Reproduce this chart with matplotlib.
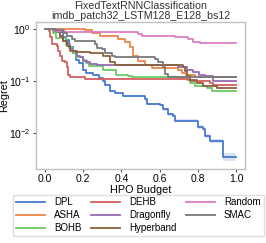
import numpy as np
import matplotlib
matplotlib.use('Agg')
import matplotlib.pyplot as plt

plt.rcParams['font.family'] = ['Liberation Sans', 'DejaVu Sans']

# values (steps: value changes at each budget point)
dpl_x = [0, 0.05, 0.093, 0.11, 0.126, 0.145, 0.162, 0.178, 0.197, 0.215, 0.25, 0.283, 0.302, 0.314,
         0.34, 0.366, 0.408, 0.524, 0.532, 0.602, 0.618, 0.644, 0.67, 0.68, 0.80, 0.827, 0.838, 0.864,
         0.932, 1.0]
dpl_y = [1.0, 0.89, 0.714, 0.618, 0.461, 0.35, 0.258, 0.226, 0.167, 0.146, 0.134, 0.1175, 0.10, 0.0866,
         0.0646, 0.0585, 0.0519, 0.045, 0.0361, 0.0346, 0.029, 0.0233, 0.0217, 0.0174, 0.0132, 0.0121,
         0.0089, 0.00727, 0.00356, 0.00356]
# relative spread of the shaded band around DPL
dpl_err = [0, 0.01, 0.02, 0.02, 0.02, 0.02, 0.02, 0.02, 0.02, 0.02, 0.03, 0.03, 0.03, 0.03,
           0.04, 0.04, 0.05, 0.05, 0.05, 0.05, 0.06, 0.06, 0.07, 0.07, 0.08, 0.08, 0.1, 0.1,
           0.2, 0.2]

asha_x = [0, 0.209, 0.246, 0.288, 0.382, 0.419, 0.445, 0.461, 0.487, 0.524, 0.56, 0.696, 0.717, 0.738, 0.785, 1.0]
asha_y = [1.0, 0.957, 0.84, 0.753, 0.646, 0.56, 0.45, 0.311, 0.25, 0.201, 0.182, 0.167, 0.146, 0.134, 0.119, 0.119]

bohb_x = [0, 0.04, 0.058, 0.11, 0.126, 0.145, 0.162, 0.197, 0.215, 0.23, 0.302, 0.372, 0.435, 0.455,
          0.743, 0.759, 0.785, 0.848, 0.874, 1.0]
bohb_y = [1.0, 0.84, 0.675, 0.497, 0.436, 0.35, 0.298, 0.258, 0.226, 0.193, 0.167, 0.134, 0.128, 0.121,
          0.1045, 0.0933, 0.0804, 0.075, 0.0646, 0.0646]

dehb_x = [0, 0.021, 0.026, 0.035, 0.061, 0.068, 0.079, 0.089, 0.105, 0.114, 0.12, 0.131, 0.209, 0.759,
          0.864, 0.88, 1.0]
dehb_y = [1.0, 0.928, 0.705, 0.519, 0.476, 0.383, 0.307, 0.247, 0.237, 0.19, 0.13, 0.121, 0.110, 0.10,
          0.0945, 0.0847, 0.0847]

dragonfly_x = [0, 0.042, 0.068, 0.079, 0.094, 0.115, 0.131, 0.147, 0.166, 0.183, 0.199, 0.218, 0.236,
               0.271, 0.696, 0.743, 0.775, 0.806, 0.838, 0.88, 1.0]
dragonfly_y = [1.0, 0.978, 0.877, 0.705, 0.6, 0.519, 0.417, 0.388, 0.311, 0.29, 0.25, 0.237, 0.217,
               0.201, 0.19, 0.167, 0.153, 0.134, 0.124, 0.10, 0.10]

hyperband_x = [0, 0.052, 0.079, 0.094, 0.114, 0.131, 0.162, 0.236, 0.304, 0.34, 0.366, 0.723, 0.733,
               0.743, 0.759, 0.796, 0.827, 0.90, 1.0]
hyperband_y = [1.0, 0.936, 0.746, 0.6, 0.482, 0.388, 0.366, 0.35, 0.307, 0.237, 0.203, 0.19, 0.155,
               0.124, 0.108, 0.0945, 0.0804, 0.073, 0.073]

random_x = [0, 0.052, 0.105, 0.487, 0.506, 0.681, 0.749, 0.775, 0.812, 1.0]
random_y = [1.0, 0.936, 0.877, 0.804, 0.737, 0.705, 0.66, 0.574, 0.535, 0.535]

smac_x = [0, 0.052, 0.079, 0.096, 0.114, 0.14, 0.157, 0.262, 0.271, 0.297, 0.314, 0.351, 0.366, 0.576,
          0.592, 0.618, 0.628, 0.644, 1.0]
smac_y = [1.0, 0.978, 0.957, 0.851, 0.736, 0.638, 0.592, 0.512, 0.442, 0.412, 0.355, 0.311, 0.29, 0.27,
          0.233, 0.1876, 0.14, 0.121, 0.121]

series = [
    ('DPL', dpl_x, dpl_y, '#4878d0'),
    ('ASHA', asha_x, asha_y, '#ee854a'),
    ('BOHB', bohb_x, bohb_y, '#6acc64'),
    ('DEHB', dehb_x, dehb_y, '#d65f5f'),
    ('Dragonfly', dragonfly_x, dragonfly_y, '#956cb4'),
    ('Hyperband', hyperband_x, hyperband_y, '#8c613c'),
    ('Random', random_x, random_y, '#dc7ec0'),
    ('SMAC', smac_x, smac_y, '#797979'),
]

fig = plt.figure(figsize=(2.66, 2.43), dpi=100)
ax = fig.add_axes([0.135, 0.305, 0.786, 0.604])

for name, xs, ys, col in series:
    ax.plot(xs, ys, drawstyle='steps-post', color=col, lw=1.3, label=name)

lo = np.array(dpl_y) / (1 + np.array(dpl_err))
hi = np.array(dpl_y) * (1 + np.array(dpl_err))
ax.fill_between(dpl_x, lo, hi, step='post', color='#4878d0', alpha=0.2, lw=0)

ax.set_yscale('log')
ax.set_ylim(0.0021, 1.36)
ax.set_xlim(-0.047, 1.047)
ax.minorticks_off()
ax.set_xticks([0.0, 0.2, 0.4, 0.6, 0.8, 1.0])
ax.set_yticks([1, 0.1, 0.01])

for sp in ax.spines.values():
    sp.set_color('#c0c0c0')
    sp.set_linewidth(1.0)
ax.tick_params(labelsize=7.5, length=2.5, width=0.8, color='#555555', pad=1.5)

ax.set_xlabel('HPO Budget', fontsize=7.8, labelpad=0.5)
ax.set_ylabel('Regret', fontsize=7.8, labelpad=0)
ax.set_title('FixedTextRNNClassification\nimdb_patch32_LSTM128_E128_bs12', fontsize=7.7, pad=2.5,
             color='#333333', linespacing=1.0)

fig.legend(loc='lower center', bbox_to_anchor=(0.52, 0.008), ncol=3, fontsize=7,
           frameon=True, edgecolor='#d8d8d8', handlelength=3.0, columnspacing=1.0,
           handletextpad=0.9, labelspacing=0.3, borderpad=0.3, fancybox=False)

plt.savefig('out.png', dpi=100)
